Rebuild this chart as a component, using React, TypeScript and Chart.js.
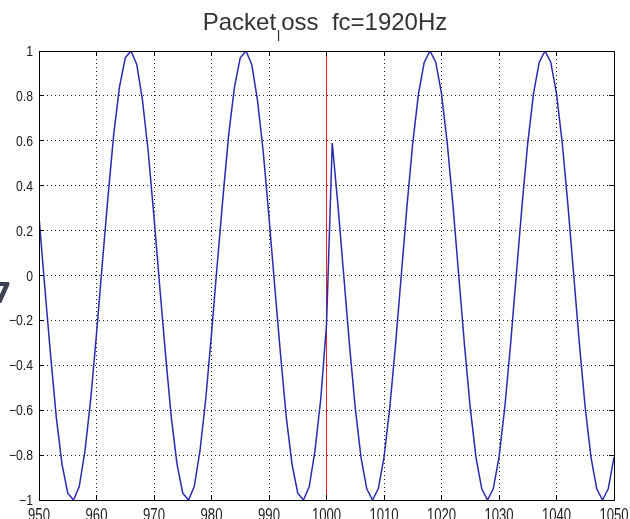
import React, { useEffect, useRef } from 'react';
import { Chart, registerables } from 'chart.js';

Chart.register(...registerables);

// ---- data ----
const sampleX = [
  950, 951, 952, 953, 954, 955, 956, 957, 958, 959,
  960, 961, 962, 963, 964, 965, 966, 967, 968, 969,
  970, 971, 972, 973, 974, 975, 976, 977, 978, 979,
  980, 981, 982, 983, 984, 985, 986, 987, 988, 989,
  990, 991, 992, 993, 994, 995, 996, 997, 998, 999,
  1000, 1001, 1002, 1003, 1004, 1005, 1006, 1007, 1008, 1009,
  1010, 1011, 1012, 1013, 1014, 1015, 1016, 1017, 1018, 1019,
  1020, 1021, 1022, 1023, 1024, 1025, 1026, 1027, 1028, 1029,
  1030, 1031, 1032, 1033, 1034, 1035, 1036, 1037, 1038, 1039,
  1040, 1041, 1042, 1043, 1044, 1045, 1046, 1047, 1048, 1049,
  1050,
];

const signalY = [
  0.26, -0.05, -0.35, -0.63, -0.84, -0.97, -1.0, -0.94, -0.78, -0.55,
  -0.26, 0.05, 0.35, 0.63, 0.84, 0.97, 1.0, 0.94, 0.78, 0.55,
  0.26, -0.05, -0.35, -0.63, -0.84, -0.97, -1.0, -0.94, -0.78, -0.55,
  -0.26, 0.05, 0.35, 0.63, 0.84, 0.97, 1.0, 0.94, 0.78, 0.55,
  0.26, -0.05, -0.35, -0.63, -0.84, -0.97, -1.0, -0.94, -0.78, -0.55,
  -0.22, 0.59, 0.31, 0.0, -0.31, -0.59, -0.81, -0.95, -1.0, -0.95,
  -0.81, -0.59, -0.31, 0.0, 0.31, 0.59, 0.81, 0.95, 1.0, 0.95,
  0.81, 0.59, 0.31, 0.0, -0.31, -0.59, -0.81, -0.95, -1.0, -0.95,
  -0.81, -0.59, -0.31, 0.0, 0.31, 0.59, 0.81, 0.95, 1.0, 0.95,
  0.81, 0.59, 0.31, 0.0, -0.31, -0.59, -0.81, -0.95, -1.0, -0.95,
  -0.81,
];

const markerX = [1000, 1000];
const markerY = [-1, 1];

const xTicks = [950, 960, 970, 980, 990, 1000, 1010, 1020, 1030, 1040, 1050];
const xTickLabels = ['950', '960', '970', '980', '990', '1000', '1010', '1020', '1030', '1040', '1050'];
const yTicks = [-1, -0.8, -0.6, -0.4, -0.2, 0, 0.2, 0.4, 0.6, 0.8, 1];
const yTickLabels = ['\u22121', '\u22120.8', '\u22120.6', '\u22120.4', '\u22120.2', '0', '0.2', '0.4', '0.6', '0.8', '1'];

const titleMain = 'Packet';
const titleSub = 'l';
const titleRest = 'oss  fc=1920Hz';

const SANS = '"Liberation Sans", Arial, sans-serif';

// draws a label with a narrow/tall stretch like the reference's tick font
function stretchedText(ctx: any, text: string, x: number, y: number, align: string, sx: number, sy: number) {
  ctx.save();
  ctx.translate(x, y);
  ctx.scale(sx, sy);
  ctx.textAlign = align;
  ctx.textBaseline = 'alphabetic';
  ctx.fillText(text, 0, 0);
  ctx.restore();
}

const framePlugin = {
  id: 'matlabFrame',
  beforeDatasetsDraw(chart: any) {
    const { ctx, chartArea } = chart;
    const { left, right, top, bottom } = chartArea;
    const xs = chart.scales.x;
    const ys = chart.scales.y;
    ctx.save();
    ctx.strokeStyle = '#1a1a1a';
    ctx.lineWidth = 1;
    ctx.setLineDash([1, 3]);
    xTicks.forEach((v, i) => {
      if (i === 0 || i === xTicks.length - 1) return;
      const px = Math.floor(xs.getPixelForValue(v)) + 0.5;
      ctx.beginPath();
      ctx.moveTo(px, top);
      ctx.lineTo(px, bottom);
      ctx.stroke();
    });
    yTicks.forEach((v, i) => {
      if (i === 0 || i === yTicks.length - 1) return;
      const py = Math.floor(ys.getPixelForValue(v)) + 0.5;
      ctx.beginPath();
      ctx.moveTo(left, py);
      ctx.lineTo(right, py);
      ctx.stroke();
    });
    ctx.restore();
  },
  afterDraw(chart: any) {
    const { ctx, chartArea } = chart;
    const { left, right, top, bottom } = chartArea;
    const xs = chart.scales.x;
    const ys = chart.scales.y;
    ctx.save();
    ctx.strokeStyle = '#000';
    ctx.lineWidth = 1;
    ctx.setLineDash([]);
    ctx.strokeRect(Math.floor(left) + 0.5, Math.floor(top) + 0.5, Math.round(right - left), Math.round(bottom - top));
    const tl = 5;
    ctx.beginPath();
    xTicks.forEach((v) => {
      const px = Math.floor(xs.getPixelForValue(v)) + 0.5;
      ctx.moveTo(px, bottom);
      ctx.lineTo(px, bottom - tl);
      ctx.moveTo(px, top);
      ctx.lineTo(px, top + tl);
    });
    yTicks.forEach((v) => {
      const py = Math.floor(ys.getPixelForValue(v)) + 0.5;
      ctx.moveTo(left, py);
      ctx.lineTo(left + tl, py);
      ctx.moveTo(right, py);
      ctx.lineTo(right - tl, py);
    });
    ctx.stroke();

    // tick labels (narrow, tall digits)
    ctx.fillStyle = '#1a1a1a';
    ctx.font = '16px ' + SANS;
    xTicks.forEach((v, i) => {
      const px = xs.getPixelForValue(v);
      stretchedText(ctx, xTickLabels[i], px, bottom + 20.5, 'center', 0.82, 1.2);
    });
    ctx.font = '14px ' + SANS;
    yTicks.forEach((v, i) => {
      const py = ys.getPixelForValue(v);
      stretchedText(ctx, yTickLabels[i], left - 6, py + 5, 'right', 0.87, 1.0);
    });

    // title with TeX-like subscript
    const mainFont = '24px ' + SANS;
    const subFont = '14px ' + SANS;
    ctx.fillStyle = '#333';
    ctx.textBaseline = 'alphabetic';
    ctx.textAlign = 'left';
    ctx.font = mainFont;
    const w1 = ctx.measureText(titleMain).width;
    const w3 = ctx.measureText(titleRest).width;
    ctx.font = subFont;
    const w2 = ctx.measureText(titleSub).width + 2;
    const total = w1 + w2 + w3;
    const x0 = 325 - total / 2;
    ctx.font = mainFont;
    ctx.fillText(titleMain, x0, 30);
    ctx.font = subFont;
    ctx.fillText(titleSub, x0 + w1 + 1, 41);
    ctx.font = mainFont;
    ctx.fillText(titleRest, x0 + w1 + w2, 30);

    // cropped glyph at the left edge of the reference
    ctx.fillStyle = '#3d4150';
    ctx.font = 'bold 28px "DejaVu Sans", sans-serif';
    ctx.fillText('7', -8, 303);
    ctx.restore();
  },
};

export default function App() {
  const ref = useRef<HTMLCanvasElement>(null);

  useEffect(() => {
    if (!ref.current) return;
    const signal = sampleX.map((x, i) => ({ x, y: signalY[i] }));
    const marker = markerX.map((x, i) => ({ x, y: markerY[i] }));
    const chart = new Chart(ref.current, {
      type: 'line',
      data: {
        datasets: [
          {
            label: 'marker',
            data: marker,
            borderColor: '#ee2020',
            borderWidth: 1,
            pointRadius: 0,
            tension: 0,
            order: 2,
          },
          {
            label: 'signal',
            data: signal,
            borderColor: '#2a2ab0',
            borderWidth: 1.5,
            pointRadius: 0,
            tension: 0,
            order: 1,
          },
        ],
      },
      options: {
        animation: false,
        responsive: true,
        maintainAspectRatio: false,
        devicePixelRatio: 1,
        layout: { padding: { top: 51, right: 16, left: 0, bottom: 0 } },
        plugins: {
          legend: { display: false },
          tooltip: { enabled: false },
          title: { display: false },
        },
        scales: {
          x: {
            type: 'linear',
            min: 950,
            max: 1050,
            grid: { display: false, drawTicks: false },
            border: { display: false },
            afterBuildTicks: (scale: any) => {
              scale.ticks = xTicks.map((v) => ({ value: v }));
            },
            afterFit: (scale: any) => {
              scale.height = 19;
              scale.paddingLeft = 0;
              scale.paddingRight = 0;
            },
            ticks: { display: false },
          },
          y: {
            type: 'linear',
            min: -1,
            max: 1,
            grid: { display: false, drawTicks: false },
            border: { display: false },
            afterBuildTicks: (scale: any) => {
              scale.ticks = yTicks.map((v) => ({ value: v }));
            },
            afterFit: (scale: any) => {
              scale.width = 39;
              scale.paddingTop = 0;
              scale.paddingBottom = 0;
            },
            ticks: { display: false },
          },
        },
      },
      plugins: [framePlugin],
    });
    return () => chart.destroy();
  }, []);

  return (
    <div style={{ position: 'fixed', left: 0, top: 0, width: 630, height: 519, background: '#fff' }}>
      <canvas ref={ref} />
    </div>
  );
}
